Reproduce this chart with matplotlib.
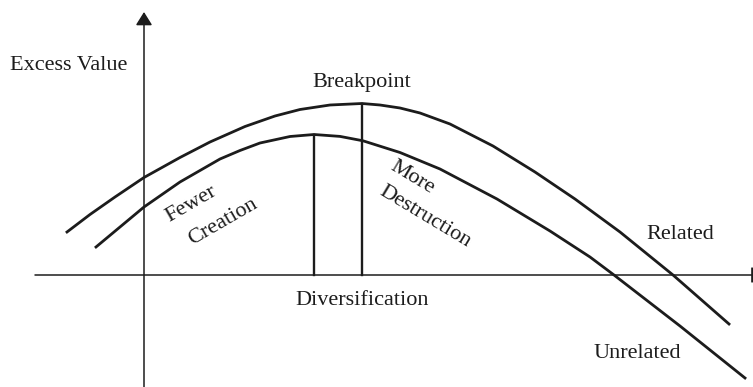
import numpy as np
import matplotlib.pyplot as plt

# curves (origin = where the two axes cross)
related_x = [-77, -54, -29, 0, 36, 66, 101, 131, 156, 186, 218, 236, 256, 276, 306, 349, 391, 431, 476, 529, 585]
related_y = [43, 60.5, 78, 97.5, 117.5, 133, 148.5, 159, 165.5, 170, 171.5, 170, 167, 162, 151, 129, 103, 76, 43, 0, -49]

unrelated_x = [-48, -24, 0, 36, 56, 76, 96, 116, 146, 170, 196, 219, 256, 296, 353, 406, 446, 470, 536, 601]
unrelated_y = [28, 48, 68, 93, 104.5, 116, 124.5, 132, 138.5, 140.5, 138.6, 134.2, 122.5, 106, 76, 44, 18, 0, -51, -103]

axis_label_y = "Excess Value"
axis_label_x = "Diversification"
peak_label = "Breakpoint"
series_names = ["Related", "Unrelated"]

ink = "#1c1c1c"
plt.rcParams['font.family'] = ['Liberation Serif', 'DejaVu Serif']

fig = plt.figure(figsize=(7.53, 3.87), dpi=100)
ax = fig.add_axes([0, 0, 1, 1])
ax.set_xlim(-144, 609)
ax.set_ylim(-112, 275)
ax.axis('off')

# axes with arrows (x arrow head runs off the right edge, like the original)
head = dict(arrowstyle='-|>,head_length=0.4,head_width=0.25',
            lw=1.1, color=ink, mutation_scale=20, shrinkA=0, shrinkB=0)
ax.annotate('', xy=(0, 263), xytext=(0, -115), arrowprops=head, annotation_clip=False)
ax.annotate('', xy=(620.5, 0), xytext=(-109, 0), arrowprops=head, annotation_clip=False)

ax.plot(related_x, related_y, color=ink, lw=2.0, solid_joinstyle='round')
ax.plot(unrelated_x, unrelated_y, color=ink, lw=2.0, solid_joinstyle='round')

# drop lines from each peak
for xs, ys in [(related_x, related_y), (unrelated_x, unrelated_y)]:
    i = int(np.argmax(ys))
    ax.plot([xs[i], xs[i]], [0, ys[i]], color=ink, lw=1.7)

rx = related_x[int(np.argmax(related_y))]

fs = 16
ax.text(-134, 205, axis_label_y, fontsize=fs, color=ink, ha='left', va='baseline')
ax.text(rx, 188, peak_label, fontsize=fs, color=ink, ha='center', va='baseline')
ax.text(rx, -30, axis_label_x, fontsize=fs, color=ink, ha='center', va='baseline')
ax.text(502, 36, series_names[0], fontsize=fs, color=ink, ha='left', va='baseline')
ax.text(450, -83, series_names[1], fontsize=fs, color=ink, ha='left', va='baseline')

ax.text(47, 71, "Fewer", fontsize=fs, color=ink, rotation=30, ha='center', va='center', rotation_mode='anchor')
ax.text(79, 53, "Creation", fontsize=fs, color=ink, rotation=30, ha='center', va='center', rotation_mode='anchor')
ax.text(268, 97, "More", fontsize=fs, color=ink, rotation=-31, ha='center', va='center', rotation_mode='anchor')
ax.text(281, 58, "Destruction", fontsize=fs, color=ink, rotation=-31, ha='center', va='center', rotation_mode='anchor')

fig.savefig("out.png", dpi=100)
